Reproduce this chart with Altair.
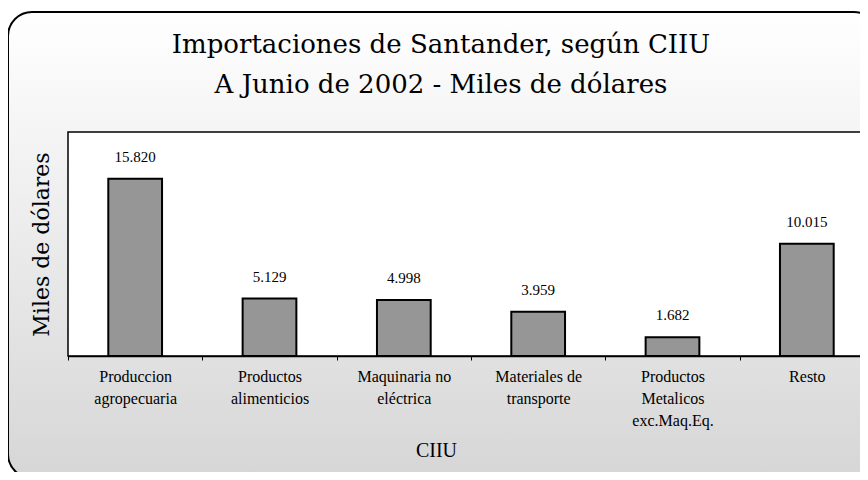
import altair as alt
import pandas as pd

# ---- data ----
categorias = [
    "Produccion|agropecuaria",
    "Productos|alimenticios",
    "Maquinaria no|eléctrica",
    "Materiales de|transporte",
    "Productos|Metalicos|exc.Maq.Eq.",
    "Resto",
]
valores = [15820, 5129, 4998, 3959, 1682, 10015]
titulo = ["Importaciones de Santander, según CIIU", "A Junio de  2002 - Miles de dólares"]
titulo_y = "Miles de dólares"
titulo_x = "CIIU"

df = pd.DataFrame({"ciiu": categorias, "valor": valores})
one = pd.DataFrame({"k": [0]})

W, H = 792, 224      # visible plot area (svg is 852 x 464)
XR = 806             # the category axis runs on past the page edge

grad = {
    "gradient": "linear",
    "x1": 0, "y1": 0, "x2": 0, "y2": 1,
    "stops": [
        {"offset": 0, "color": "#ffffff"},
        {"offset": 1, "color": "#d6d6d6"},
    ],
}

box = alt.Chart(one).mark_rect(
    cornerRadius=24, fill=grad, stroke="#000000", strokeWidth=2
).encode(
    x=alt.value(-60), x2=alt.value(810), y=alt.value(-120), y2=alt.value(346)
)

plotbg = alt.Chart(one).mark_rect(
    fill="#ffffff", stroke="#000000", strokeWidth=1.5
).encode(
    x=alt.value(0), x2=alt.value(XR), y=alt.value(0), y2=alt.value(H)
)

xenc = alt.X(
    "ciiu:N",
    sort=categorias,
    scale=alt.Scale(paddingInner=0, paddingOuter=0, range=[0, XR]),
    axis=alt.Axis(
        title=titulo_x,
        labelExpr="split(datum.label, '|')",
        labelAngle=0,
        labelFont="Liberation Serif",
        labelFontSize=16,
        labelLineHeight=22,
        labelColor="#000000",
        labelLimit=0,
        labelPadding=8,
        labelBaseline="top",
        labelOverlap=False,
        tickBand="extent",
        tickSize=4,
        tickColor="#000000",
        domainColor="#000000",
        domainWidth=1.5,
        titleFont="Liberation Serif",
        titleFontSize=20,
        titleFontWeight="normal",
        titleColor="#000000",
        titleX=368,
        titleY=94,
        titleBaseline="middle",
        zindex=1,
    ),
)

yenc = alt.Y(
    "valor:Q",
    scale=alt.Scale(domain=[0, 20000], nice=False),
    axis=alt.Axis(
        title=titulo_y,
        labels=False,
        ticks=False,
        domain=False,
        grid=False,
        titleFont="DejaVu Serif",
        titleFontSize=22,
        titleFontWeight="normal",
        titleColor="#000000",
        titleAngle=270,
        titleX=-27,
        titleY=112,
        titleAlign="center",
        titleBaseline="middle",
        zindex=1,
    ),
)

bars = alt.Chart(df).mark_bar(
    width=alt.RelativeBandSize(0.4), fill="#969696", stroke="#000000", strokeWidth=2
).encode(x=xenc, y=yenc)

labels = alt.Chart(df).transform_calculate(
    etiqueta="replace(format(datum.valor, ','), ',', '.')"
).mark_text(
    dy=-22, baseline="middle", font="Liberation Serif", fontSize=15, color="#000000"
).encode(x=xenc, y=yenc, text="etiqueta:N")

title = alt.Chart(one).mark_text(
    text=titulo, font="DejaVu Serif", fontSize=26, lineHeight=40,
    baseline="middle", align="center", color="#000000"
).encode(x=alt.value(373), y=alt.value(-87))

chart = alt.layer(box, plotbg, bars, labels, title).properties(
    width=W, height=H,
    autosize=alt.AutoSizeParams(type="none"),
    padding={"left": 60, "top": 124, "right": 0, "bottom": 116},
    background="#ffffff",
).configure_view(strokeWidth=0)

chart.save("out.html", embed_options={"renderer": "svg", "actions": False})
